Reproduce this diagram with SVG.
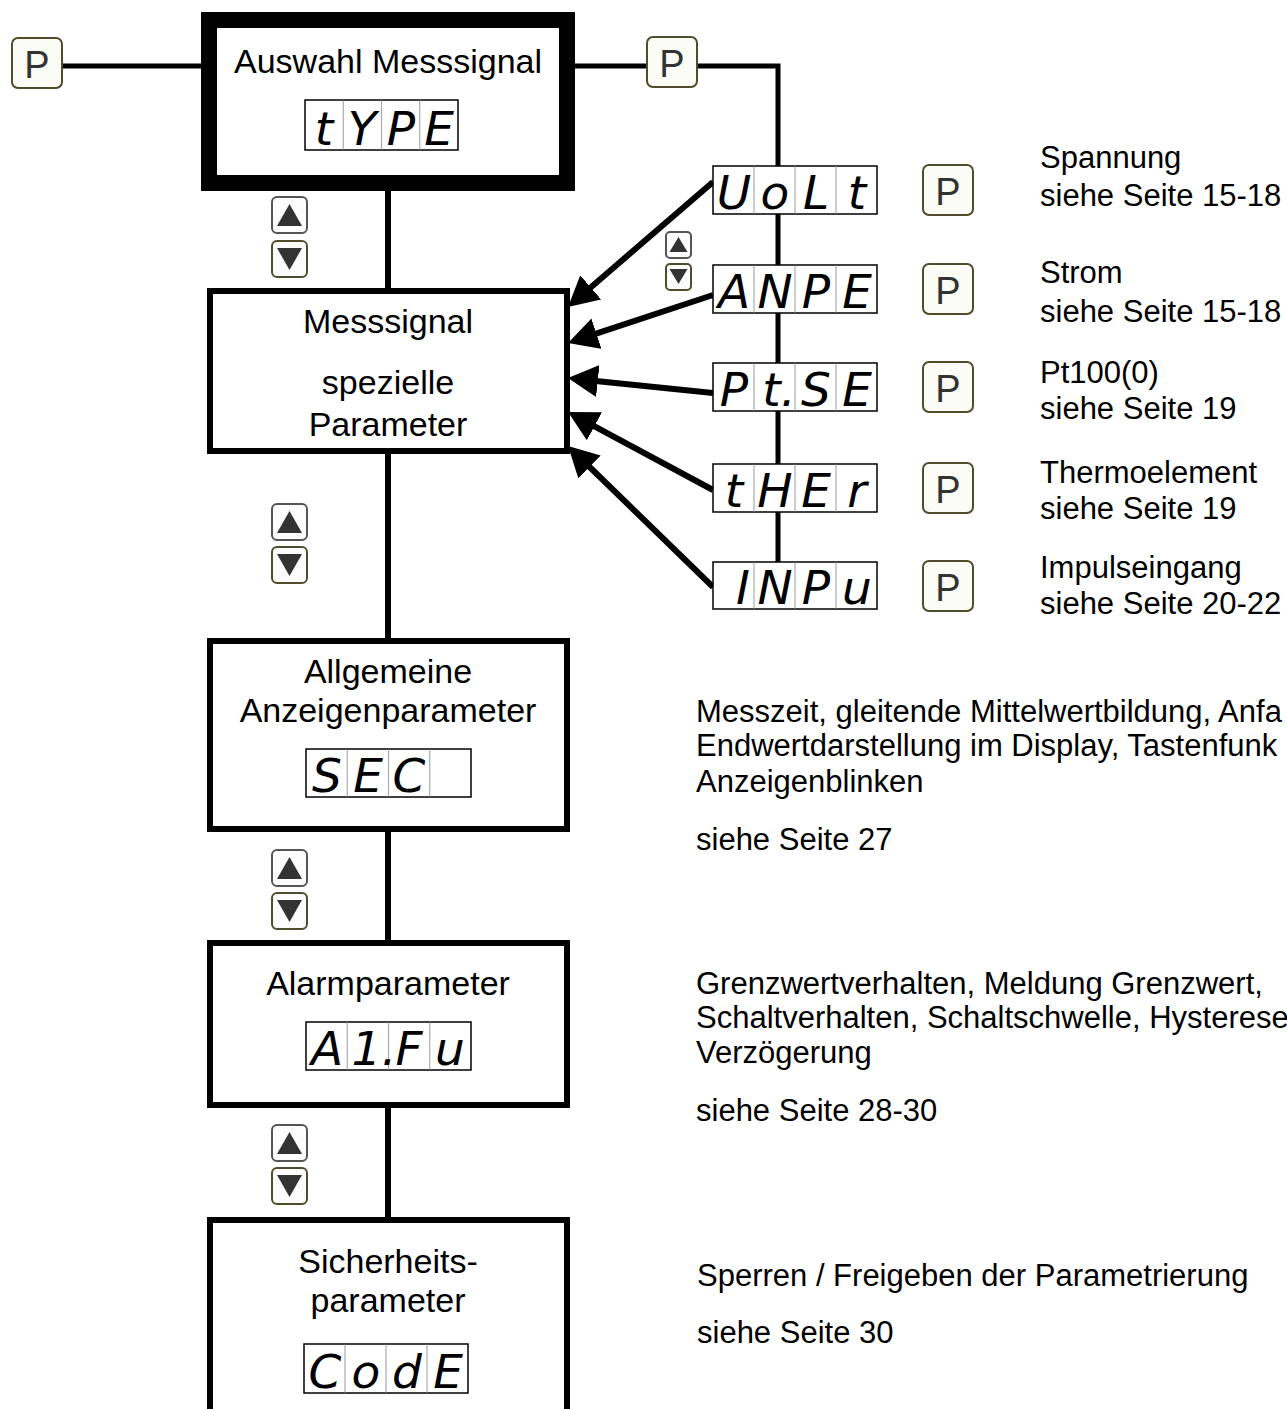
<svg xmlns="http://www.w3.org/2000/svg" width="1287" height="1409" viewBox="0 0 1287 1409">
<style>
.t{font-family:"Liberation Sans",Arial,sans-serif;fill:#000}
.bx{font-size:34px;text-anchor:middle}
.rt{font-size:31px}
.box{fill:#fff;stroke:#000;stroke-width:6}
.pk rect{fill:#fcfcf6;stroke:#4f4d2c;stroke-width:2}
.pk text{font-family:"Liberation Sans",Arial,sans-serif;font-size:38px;fill:#333;text-anchor:middle}
.ar rect{fill:#fcfcfc;stroke:#555;stroke-width:2}
.ar rect.dn{stroke:#4f4d2c}
.ar path{fill:#333}
.dsp rect{fill:#fff;stroke:#000;stroke-width:1.5}
.dsp line{stroke:#aaa;stroke-width:1.2}
.seg{font-family:"DejaVu Sans",sans-serif;font-style:oblique;font-weight:200;font-size:47px;fill:#000;text-anchor:middle}
.cn{stroke:#000;fill:none;stroke-width:5}
.cv{stroke:#000;fill:none;stroke-width:6}
.ca{stroke:#000;fill:none;stroke-width:6;marker-end:url(#ah)}
</style>
<defs>
<marker id="ah" markerUnits="userSpaceOnUse" markerWidth="30" markerHeight="32" viewBox="0 0 30 32" refX="2" refY="16" orient="auto">
<path d="M0,0 L30,16 L0,32 z" fill="#000"/>
</marker>
<g id="pbtn" class="pk"><rect x="0" y="0" width="50" height="50" rx="6"/><text x="25" y="40">P</text></g>
</defs>
<rect width="1287" height="1409" fill="#fff"/>

<g id="connectors">
<line class="cn" x1="62" y1="66" x2="205" y2="66"/>
<line class="cn" x1="570" y1="66" x2="647" y2="66"/>
<polyline class="cn" points="697,66 778,66 778,166"/>
<line class="cn" x1="778" y1="214" x2="778" y2="265"/>
<line class="cn" x1="778" y1="313" x2="778" y2="363"/>
<line class="cn" x1="778" y1="411" x2="778" y2="464"/>
<line class="cn" x1="778" y1="512" x2="778" y2="562"/>
<line class="cv" x1="388" y1="185" x2="388" y2="290"/>
<line class="cv" x1="388" y1="452" x2="388" y2="640"/>
<line class="cv" x1="388" y1="830" x2="388" y2="942"/>
<line class="cv" x1="388" y1="1106" x2="388" y2="1219"/>
<line class="ca" x1="713" y1="182" x2="589.2" y2="288.7"/>
<line class="ca" x1="713" y1="295" x2="594.6" y2="334.2"/>
<line class="ca" x1="713" y1="393" x2="595.8" y2="380.9"/>
<line class="ca" x1="713" y1="490" x2="592.7" y2="425.3"/>
<line class="ca" x1="713" y1="587" x2="588.1" y2="465.5"/>
</g>

<g id="p-left"><use href="#pbtn" x="12" y="38"/></g>
<g id="p-top"><use href="#pbtn" x="647" y="37"/></g>

<g id="node-auswahl">
<rect x="209" y="20" width="358" height="163" fill="#fff" stroke="#000" stroke-width="16"/>
<text class="t bx" x="388" y="73">Auswahl Messsignal</text>
<g class="dsp"><rect x="305" y="100" width="153" height="50"/>
<line x1="343.25" y1="100.5" x2="343.25" y2="149.5"/><line x1="381.5" y1="100.5" x2="381.5" y2="149.5"/><line x1="419.75" y1="100.5" x2="419.75" y2="149.5"/>
<text class="seg"><tspan x="324" y="145">t</tspan><tspan x="362" y="145">Y</tspan><tspan x="401" y="145">P</tspan><tspan x="439" y="145">E</tspan></text></g>
</g>

<g id="node-messsignal">
<rect class="box" x="210" y="291" width="357" height="160"/>
<text class="t bx" x="388" y="333">Messsignal</text>
<text class="t bx" x="388" y="394">spezielle</text>
<text class="t bx" x="388" y="436">Parameter</text>
</g>

<g id="node-allgemeine">
<rect class="box" x="210" y="641" width="357" height="188"/>
<text class="t bx" x="388" y="683">Allgemeine</text>
<text class="t bx" x="388" y="722">Anzeigenparameter</text>
<g class="dsp"><rect x="306" y="749" width="165" height="48"/>
<line x1="347.25" y1="749.5" x2="347.25" y2="796.5"/><line x1="388.5" y1="749.5" x2="388.5" y2="796.5"/><line x1="429.75" y1="749.5" x2="429.75" y2="796.5"/>
<text class="seg"><tspan x="327" y="792">S</tspan><tspan x="368" y="792">E</tspan><tspan x="409" y="792">C</tspan></text></g>
</g>

<g id="node-alarm">
<rect class="box" x="210" y="943" width="357" height="162"/>
<text class="t bx" x="388" y="995">Alarmparameter</text>
<g class="dsp"><rect x="306" y="1022" width="165" height="48"/>
<line x1="347.25" y1="1022.5" x2="347.25" y2="1069.5"/><line x1="388.5" y1="1022.5" x2="388.5" y2="1069.5"/><line x1="429.75" y1="1022.5" x2="429.75" y2="1069.5"/>
<text class="seg"><tspan x="327" y="1065">A</tspan><tspan x="374" y="1065">1.</tspan><tspan x="409" y="1065">F</tspan><tspan x="450" y="1065">u</tspan></text></g>
</g>

<g id="node-sicherheit">
<path d="M210,1430 V1220 H567 V1430" fill="#fff" stroke="#000" stroke-width="6"/>
<text class="t bx" x="388" y="1273">Sicherheits-</text>
<text class="t bx" x="388" y="1312">parameter</text>
<g class="dsp"><rect x="304" y="1344" width="164" height="49"/>
<line x1="345" y1="1344.5" x2="345" y2="1392.5"/><line x1="386" y1="1344.5" x2="386" y2="1392.5"/><line x1="427" y1="1344.5" x2="427" y2="1392.5"/>
<text class="seg"><tspan x="325" y="1388">C</tspan><tspan x="366" y="1388">o</tspan><tspan x="407" y="1388">d</tspan><tspan x="448" y="1388">E</tspan></text></g>
</g>

<g id="node-volt">
<g class="dsp"><rect x="713" y="166" width="164" height="48"/>
<line x1="754" y1="166.5" x2="754" y2="213.5"/><line x1="795" y1="166.5" x2="795" y2="213.5"/><line x1="836" y1="166.5" x2="836" y2="213.5"/>
<text class="seg"><tspan x="734" y="209">U</tspan><tspan x="775" y="209">o</tspan><tspan x="816" y="209">L</tspan><tspan x="857" y="209">t</tspan></text></g>
<use href="#pbtn" x="923" y="165"/>
<text class="t rt" x="1040" y="168">Spannung</text>
<text class="t rt" x="1040" y="206">siehe Seite 15-18</text>
</g>

<g id="node-ampe">
<g class="dsp"><rect x="713" y="265" width="164" height="48"/>
<line x1="754" y1="265.5" x2="754" y2="312.5"/><line x1="795" y1="265.5" x2="795" y2="312.5"/><line x1="836" y1="265.5" x2="836" y2="312.5"/>
<text class="seg"><tspan x="734" y="308">A</tspan><tspan x="775" y="308">N</tspan><tspan x="816" y="308">P</tspan><tspan x="857" y="308">E</tspan></text></g>
<use href="#pbtn" x="923" y="264"/>
<text class="t rt" x="1040" y="283">Strom</text>
<text class="t rt" x="1040" y="322">siehe Seite 15-18</text>
</g>

<g id="node-ptse">
<g class="dsp"><rect x="713" y="363" width="164" height="48"/>
<line x1="754" y1="363.5" x2="754" y2="410.5"/><line x1="795" y1="363.5" x2="795" y2="410.5"/><line x1="836" y1="363.5" x2="836" y2="410.5"/>
<text class="seg"><tspan x="734" y="406">P</tspan><tspan x="779" y="406">t.</tspan><tspan x="816" y="406">S</tspan><tspan x="857" y="406">E</tspan></text></g>
<use href="#pbtn" x="923" y="362"/>
<text class="t rt" x="1040" y="383">Pt100(0)</text>
<text class="t rt" x="1040" y="419">siehe Seite 19</text>
</g>

<g id="node-ther">
<g class="dsp"><rect x="713" y="464" width="164" height="48"/>
<line x1="754" y1="464.5" x2="754" y2="511.5"/><line x1="795" y1="464.5" x2="795" y2="511.5"/><line x1="836" y1="464.5" x2="836" y2="511.5"/>
<text class="seg"><tspan x="734" y="507">t</tspan><tspan x="775" y="507">H</tspan><tspan x="816" y="507">E</tspan><tspan x="857" y="507">r</tspan></text></g>
<use href="#pbtn" x="923" y="463"/>
<text class="t rt" x="1040" y="483">Thermoelement</text>
<text class="t rt" x="1040" y="519">siehe Seite 19</text>
</g>

<g id="node-inpu">
<g class="dsp"><rect x="713" y="562" width="164" height="47"/>
<line x1="754" y1="562.5" x2="754" y2="608.5"/><line x1="795" y1="562.5" x2="795" y2="608.5"/><line x1="836" y1="562.5" x2="836" y2="608.5"/>
<text class="seg"><tspan x="743" y="604">I</tspan><tspan x="775" y="604">N</tspan><tspan x="816" y="604">P</tspan><tspan x="857" y="604">u</tspan></text></g>
<use href="#pbtn" x="923" y="561"/>
<text class="t rt" x="1040" y="578">Impulseingang</text>
<text class="t rt" x="1040" y="614">siehe Seite 20-22</text>
</g>

<g id="notes">
<text class="t rt" x="696" y="722">Messzeit, gleitende Mittelwertbildung, Anfa</text>
<text class="t rt" x="696" y="756">Endwertdarstellung im Display, Tastenfunk</text>
<text class="t rt" x="696" y="792">Anzeigenblinken</text>
<text class="t rt" x="696" y="850">siehe Seite 27</text>
<text class="t rt" x="696" y="994">Grenzwertverhalten, Meldung Grenzwert,</text>
<text class="t rt" x="696" y="1028">Schaltverhalten, Schaltschwelle, Hysterese</text>
<text class="t rt" x="696" y="1063">Verzögerung</text>
<text class="t rt" x="696" y="1121">siehe Seite 28-30</text>
<text class="t rt" x="697" y="1286">Sperren / Freigeben der Parametrierung</text>
<text class="t rt" x="697" y="1343">siehe Seite 30</text>
</g>

<g id="updown-1" class="ar">
<rect x="272" y="197" width="35" height="36" rx="5"/><path d="M277,226 L289.5,204 L302,226 z"/>
<rect class="dn" x="272" y="241" width="35" height="36" rx="5"/><path d="M277,248 L302,248 L289.5,270 z"/>
</g>
<g id="updown-2" class="ar">
<rect x="272" y="504" width="35" height="36" rx="5"/><path d="M277,533 L289.5,511 L302,533 z"/>
<rect class="dn" x="272" y="547" width="35" height="36" rx="5"/><path d="M277,554 L302,554 L289.5,576 z"/>
</g>
<g id="updown-3" class="ar">
<rect x="272" y="850" width="35" height="36" rx="5"/><path d="M277,879 L289.5,857 L302,879 z"/>
<rect class="dn" x="272" y="893" width="35" height="36" rx="5"/><path d="M277,900 L302,900 L289.5,922 z"/>
</g>
<g id="updown-4" class="ar">
<rect x="272" y="1125" width="35" height="36" rx="5"/><path d="M277,1154 L289.5,1132 L302,1154 z"/>
<rect class="dn" x="272" y="1168" width="35" height="36" rx="5"/><path d="M277,1175 L302,1175 L289.5,1197 z"/>
</g>
<g id="updown-small" class="ar">
<rect x="666" y="232" width="25" height="26" rx="4"/><path d="M669.5,252 L678.5,237 L687.5,252 z"/>
<rect class="dn" x="666" y="264" width="25" height="26" rx="4"/><path d="M669.5,269 L687.5,269 L678.5,284 z"/>
</g>
</svg>
